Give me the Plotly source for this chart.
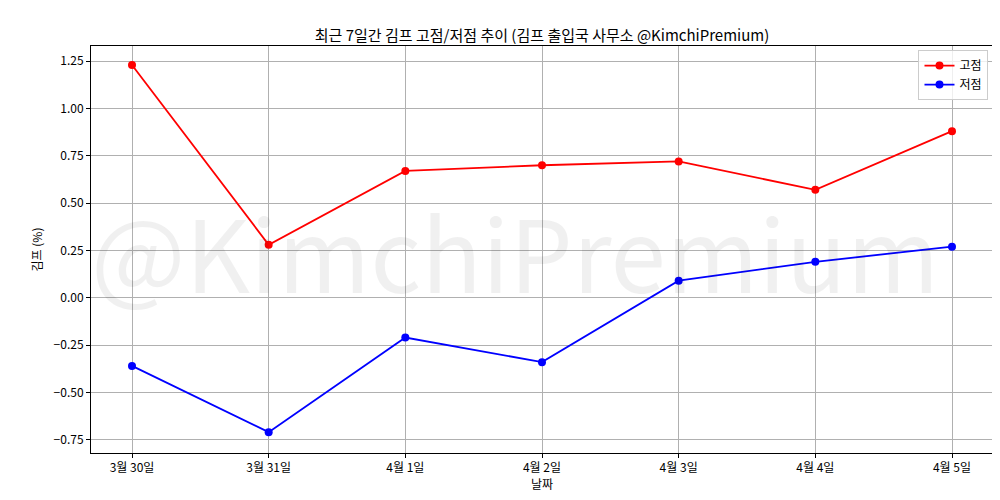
import plotly.graph_objects as go

dates = ["3월 30일", "3월 31일", "4월 1일", "4월 2일", "4월 3일", "4월 4일", "4월 5일"]
high = [1.23, 0.28, 0.67, 0.70, 0.72, 0.57, 0.88]
low = [-0.36, -0.71, -0.21, -0.34, 0.09, 0.19, 0.27]
yticks = [-0.75, -0.5, -0.25, 0.0, 0.25, 0.5, 0.75, 1.0, 1.25]

F = "Noto Sans CJK KR"
fig = go.Figure()
fig.add_trace(go.Scatter(x=list(range(len(dates))), y=high, name="고점", mode="lines+markers",
                         line=dict(color="red", width=1.8), marker=dict(color="red", size=8)))
fig.add_trace(go.Scatter(x=list(range(len(dates))), y=low, name="저점", mode="lines+markers",
                         line=dict(color="blue", width=1.8), marker=dict(color="blue", size=8)))
fig.add_annotation(text="@KimchiPremium", xref="paper", yref="paper", x=0.47, y=0.5,
                   showarrow=False, font=dict(family=F, size=100, color="rgba(0,0,0,0.06)"))
axcommon = dict(showgrid=True, gridcolor="#b0b0b0", gridwidth=1, showline=True, mirror=True,
                linecolor="black", linewidth=1, ticks="outside", ticklen=4, tickcolor="black",
                zeroline=False, automargin=False, tickfont=dict(family=F, size=12, color="black"))
fig.update_layout(
    width=1000, height=500, paper_bgcolor="white", plot_bgcolor="white",
    margin=dict(l=83, r=15, t=38, b=55),
    font=dict(family=F, size=12, color="black"),
    title=dict(text="최근 7일간 김프 고점/저점 추이 (김프 출입국 사무소 @KimchiPremium)",
               x=0.534, xanchor="center", y=0.955, font=dict(family=F, size=15)),
    xaxis=dict(axcommon, range=[-0.3, 6.3], tickvals=list(range(len(dates))), ticktext=dates,
               title=dict(text="날짜", font=dict(size=12), standoff=2)),
    yaxis=dict(axcommon, range=[-0.82, 1.33], tickvals=yticks, tickformat=".2f",
               title=dict(text="김프 (%)", font=dict(size=12), standoff=8)),
    legend=dict(x=0.995, y=0.99, xanchor="right", yanchor="top", bordercolor="#cccccc",
                borderwidth=1, bgcolor="rgba(255,255,255,0.8)", font=dict(size=12)),
)
fig.write_html("out.html")
